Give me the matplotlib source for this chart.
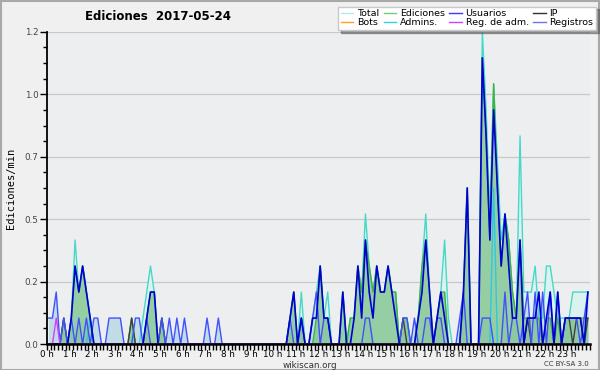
import numpy as np
import matplotlib
matplotlib.use('Agg')
import matplotlib.pyplot as plt
from matplotlib.ticker import MultipleLocator, FixedLocator, FuncFormatter

# edits per minute, one value per 10-minute bin (6 per hour)
total = [
    0, 0, 0, 0, 0.1, 0,          # 0 h
    0.1, 0.4, 0.2, 0.3, 0.2, 0.1,  # 1 h
    0, 0, 0, 0, 0, 0,            # 2 h
    0, 0, 0, 0, 0.1, 0,          # 3 h
    0, 0.1, 0.2, 0.3, 0.2, 0,    # 4 h
    0.1, 0, 0, 0, 0, 0,          # 5 h
    0, 0, 0, 0, 0, 0,            # 6 h
    0, 0, 0, 0, 0, 0,            # 7 h
    0, 0, 0, 0, 0, 0,            # 8 h
    0, 0, 0, 0, 0, 0,            # 9 h
    0, 0, 0, 0, 0.1, 0.2,        # 10 h
    0, 0.2, 0, 0, 0.1, 0.2,      # 11 h
    0.3, 0.1, 0.2, 0, 0, 0,      # 12 h
    0.2, 0, 0.1, 0.1, 0.3, 0.2,  # 13 h
    0.5, 0.3, 0.2, 0.3, 0.2, 0.2,  # 14 h
    0.3, 0.2, 0.2, 0, 0.1, 0.1,  # 15 h
    0, 0, 0.1, 0.3, 0.5, 0.2,    # 16 h
    0, 0.1, 0.2, 0.4, 0.1, 0,    # 17 h
    0, 0, 0.2, 0.6, 0, 0,        # 18 h
    0, 1.2, 0.9, 0.5, 1.0, 0.7,  # 19 h
    0.4, 0.5, 0.4, 0.2, 0.1, 0.8,  # 20 h
    0.2, 0.2, 0.2, 0.3, 0.1, 0.1,  # 21 h
    0.3, 0.3, 0.2, 0.1, 0.1, 0.1,  # 22 h
    0.1, 0.2, 0.2, 0.2, 0.2, 0.2,  # 23 h
]
edits = [
    0, 0, 0, 0, 0.1, 0,
    0.1, 0.3, 0.2, 0.3, 0.2, 0.1,
    0, 0, 0, 0, 0, 0,
    0, 0, 0, 0, 0.1, 0,
    0, 0, 0.1, 0.2, 0.2, 0,
    0.1, 0, 0, 0, 0, 0,
    0, 0, 0, 0, 0, 0,
    0, 0, 0, 0, 0, 0,
    0, 0, 0, 0, 0, 0,
    0, 0, 0, 0, 0, 0,
    0, 0, 0, 0, 0.1, 0.2,
    0, 0.1, 0, 0, 0, 0.1,
    0.3, 0.1, 0.1, 0, 0, 0,
    0.2, 0, 0.1, 0.1, 0.3, 0.2,
    0.4, 0.3, 0.2, 0.3, 0.2, 0.2,
    0.3, 0.2, 0.2, 0, 0.1, 0.1,
    0, 0, 0.1, 0.3, 0.4, 0.2,
    0, 0.1, 0.2, 0.2, 0, 0,
    0, 0, 0.2, 0.6, 0, 0,
    0, 1.1, 0.8, 0.4, 1.0, 0.6,
    0.3, 0.5, 0.4, 0.2, 0.1, 0.4,
    0.1, 0.1, 0.1, 0.1, 0.1, 0,
    0.1, 0.1, 0, 0.1, 0, 0.1,
    0.1, 0.1, 0.1, 0.1, 0.1, 0.1,
]
users = [
    0, 0, 0, 0, 0, 0,
    0.1, 0.3, 0.2, 0.3, 0.2, 0.1,
    0, 0, 0, 0, 0, 0,
    0, 0, 0, 0, 0, 0,
    0, 0, 0.1, 0.2, 0.2, 0,
    0, 0, 0, 0, 0, 0,
    0, 0, 0, 0, 0, 0,
    0, 0, 0, 0, 0, 0,
    0, 0, 0, 0, 0, 0,
    0, 0, 0, 0, 0, 0,
    0, 0, 0, 0, 0.1, 0.2,
    0, 0.1, 0, 0, 0.1, 0.1,
    0.3, 0.1, 0.1, 0, 0, 0,
    0.2, 0, 0, 0.1, 0.3, 0.1,
    0.4, 0.2, 0.1, 0.3, 0.2, 0.2,
    0.3, 0.2, 0.1, 0, 0, 0,
    0, 0, 0.1, 0.2, 0.4, 0.2,
    0, 0.1, 0.2, 0.1, 0, 0,
    0, 0, 0.2, 0.6, 0, 0,
    0, 1.1, 0.8, 0.4, 0.9, 0.6,
    0.3, 0.5, 0.3, 0.1, 0.1, 0.4,
    0, 0.1, 0.1, 0.1, 0.2, 0,
    0.1, 0.2, 0, 0.2, 0, 0.1,
    0.1, 0.1, 0.1, 0.1, 0, 0.2,
]
ip = [
    0, 0, 0, 0, 0.1, 0,
    0, 0, 0, 0, 0, 0,
    0, 0, 0, 0, 0, 0,
    0, 0, 0, 0, 0.1, 0,
    0, 0, 0, 0, 0, 0,
    0.1, 0, 0, 0, 0, 0,
    0, 0, 0, 0, 0, 0,
    0, 0, 0, 0, 0, 0,
    0, 0, 0, 0, 0, 0,
    0, 0, 0, 0, 0, 0,
    0, 0, 0, 0, 0, 0,
    0, 0, 0, 0, 0, 0,
    0, 0, 0, 0, 0, 0,
    0, 0, 0, 0, 0, 0,
    0, 0, 0, 0, 0, 0,
    0, 0, 0, 0, 0.1, 0,
    0, 0, 0, 0, 0, 0,
    0, 0, 0, 0, 0, 0,
    0, 0, 0, 0, 0, 0,
    0, 0, 0, 0, 0, 0,
    0, 0, 0, 0, 0, 0,
    0, 0.1, 0, 0, 0, 0,
    0, 0, 0, 0, 0, 0.1,
    0.1, 0, 0.1, 0.1, 0, 0.1,
]
registros = [
    0.1, 0.1, 0.2, 0, 0.1, 0,
    0.1, 0, 0.1, 0, 0.1, 0,
    0.1, 0.1, 0, 0, 0.1, 0.1,
    0.1, 0.1, 0, 0, 0, 0.1,
    0.1, 0, 0.1, 0, 0, 0,
    0.1, 0, 0.1, 0, 0.1, 0,
    0.1, 0, 0, 0, 0, 0,
    0.1, 0, 0, 0.1, 0, 0,
    0, 0, 0, 0, 0, 0,
    0, 0, 0, 0, 0, 0,
    0, 0, 0, 0, 0.1, 0,
    0, 0.1, 0, 0, 0.1, 0.2,
    0, 0.1, 0.1, 0, 0, 0,
    0, 0, 0, 0, 0, 0,
    0.1, 0.1, 0, 0, 0, 0,
    0, 0, 0, 0, 0.1, 0.1,
    0, 0.1, 0, 0, 0.1, 0.1,
    0, 0.1, 0.1, 0, 0, 0,
    0, 0.1, 0.2, 0, 0, 0,
    0, 0.1, 0.1, 0.1, 0, 0,
    0, 0.2, 0, 0.1, 0.1, 0,
    0.1, 0.2, 0, 0.2, 0, 0.2,
    0, 0.2, 0, 0.2, 0, 0.1,
    0.1, 0.1, 0.1, 0, 0.1, 0.2,
]
admins = [0] * 144
admins[11] = 0.1
admins[118] = 0.6
regadm = [0] * 144
regadm[2] = 0.1
bots = [0] * 144

hours = [str(h) + ' h' for h in range(24)]
legend_names = ['Total', 'Ediciones', 'Usuarios', 'IP',
                'Bots', 'Admins.', 'Reg. de adm.', 'Registros']

x = (np.arange(144) + 0.5) / 6.0

fig = plt.figure(figsize=(6, 3.7), dpi=100, facecolor='#f0f0f0')
fig.patches.append(plt.Rectangle((0.001, 0.001), 0.998, 0.997, transform=fig.transFigure,
                                 fill=False, edgecolor='#a8a8a8', linewidth=1.5))
ax = fig.add_axes([0.078, 0.070, 0.905, 0.844])
ax.set_facecolor('#eceef0')

ax.fill_between(x, total, color='#dcf2ee', linewidth=0)
ax.fill_between(x, registros, color='#c2dce6', linewidth=0)
ax.fill_between(x, edits, color='#78c084', alpha=0.7, linewidth=0)

lw = 1.0
ax.plot(x, total, color='#48d8c8', lw=lw)
ax.plot(x, edits, color='#40b040', lw=lw)
ax.plot(x, admins, color='#30c8e0', lw=lw)
ax.plot(x, ip, color='#404040', lw=lw)
ax.plot(x, registros, color='#4050ff', lw=lw)
ax.plot(x, users, color='#0000d0', lw=1.2)
ax.plot(x, regadm, color='#d040ff', lw=lw)
ax.plot(x, bots, color='#ffa020', lw=0)

ax.set_xlim(0, 24)
ax.set_ylim(0, 1.2)
yt = np.linspace(0, 1.2, 6)
ax.yaxis.set_major_locator(FixedLocator(yt))
ax.yaxis.set_major_formatter(FuncFormatter(lambda v, p: '%.1f' % v))
ax.yaxis.set_minor_locator(MultipleLocator(0.06))
ax.set_xticks(range(24))
ax.set_xticklabels(hours)
ax.xaxis.set_minor_locator(MultipleLocator(1 / 6))
ax.grid(axis='y', color='#c8c8c8', linewidth=0.9)
ax.set_axisbelow(True)
for s in ['top', 'right']:
    ax.spines[s].set_visible(False)
ax.spines['left'].set_linewidth(1.3)
ax.spines['bottom'].set_linewidth(1.8)
ax.tick_params(axis='both', which='both', direction='out', labelsize=6.3,
               colors='black', width=1)
ax.tick_params(axis='y', which='major', length=5, labelcolor='#444444', pad=1)
ax.tick_params(axis='y', which='minor', length=3)
ax.tick_params(axis='x', which='major', length=4, pad=0.5)
ax.tick_params(axis='x', which='minor', length=4)
fig.text(0.018, 0.49, 'Ediciones/min', fontsize=7.5, family='DejaVu Sans Mono',
         rotation=90, ha='center', va='center')

fig.text(0.142, 0.955, 'Ediciones  2017-05-24', fontsize=8.5, fontweight='bold',
         ha='left', va='center')
fig.text(0.517, 0.013, 'wikiscan.org', fontsize=6.3, ha='center', va='center', color='#333333')
fig.text(0.982, 0.016, 'CC BY-SA 3.0', fontsize=5, ha='right', va='center', color='#333333')

# legend
handles = []
cols = ['#b0ece8', '#70d070', '#3a3aff', '#303030',
        '#ffa020', '#30d0e0', '#d040ff', '#7070ff']
for c in cols:
    handles.append(plt.Line2D([], [], color=c, lw=1))
order = [0, 4, 1, 5, 2, 6, 3, 7]
leg = fig.legend([handles[i] for i in order], [legend_names[i] for i in order],
                 ncol=4, loc='upper right', bbox_to_anchor=(0.993, 0.982),
                 fontsize=6.8, frameon=True, fancybox=False, shadow=True,
                 handlelength=1.3, handletextpad=0.4, columnspacing=0.5,
                 labelspacing=0.05, borderpad=0.25, borderaxespad=0)
leg.get_frame().set_edgecolor('#c8c8c8')
leg.get_frame().set_facecolor('white')

fig.savefig('out.png', dpi=100, facecolor=fig.get_facecolor())
